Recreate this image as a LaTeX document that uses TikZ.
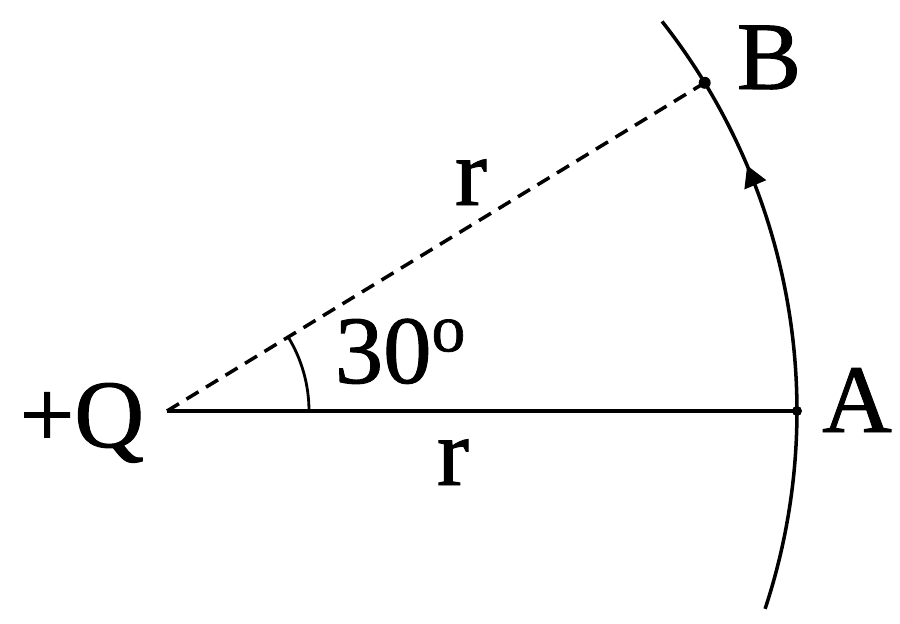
\documentclass[tikz,border=0pt]{standalone}
\usepackage{fontspec}
\setmainfont{Liberation Serif}[FakeBold=1]
\usetikzlibrary{arrows.meta,decorations.markings}

\begin{document}
\begin{tikzpicture}[font=\fontsize{27.5}{30}\selectfont]
    \useasboundingbox (-1.67,-2.12) rectangle (7.33,4.11);
    \coordinate (Q) at (0,0);
    \coordinate (A) at (0:6.3);
    \coordinate (B) at (31.4:6.3);
    \draw[line width=1pt] (Q) -- (A);
    \draw[line width=1pt, dash pattern=on 4pt off 2.5pt] (Q) -- (B);
    \draw[line width=0.8pt] (1.42,0) arc (0:31.4:1.42);
    \draw[line width=1pt, postaction={decorate},
        decoration={markings, mark=at position 0.73 with {\arrow{Triangle[length=6pt,width=6.5pt]}}}]
        (-18.3:6.3) arc (-18.3:38.2:6.3);
    \fill (A) circle (0.05);
    \fill (B) circle (0.06);
    \node[anchor=base, inner sep=0] (q) at (-0.85,-0.36) {+Q};
    \node[anchor=base, inner sep=0] (a) at (6.90,-0.21) {A};
    \node[anchor=base, inner sep=0] (b) at (6.02,3.22) {B};
    \node[anchor=base, inner sep=0] (rb) at (3.04,2.06) {r};
    \node[anchor=base, inner sep=0] (ra) at (2.86,-0.74) {r};
    \node[anchor=base, inner sep=0] (ang) at (2.34,0.28) {30\textsuperscript{o}};
\end{tikzpicture}
\end{document}
